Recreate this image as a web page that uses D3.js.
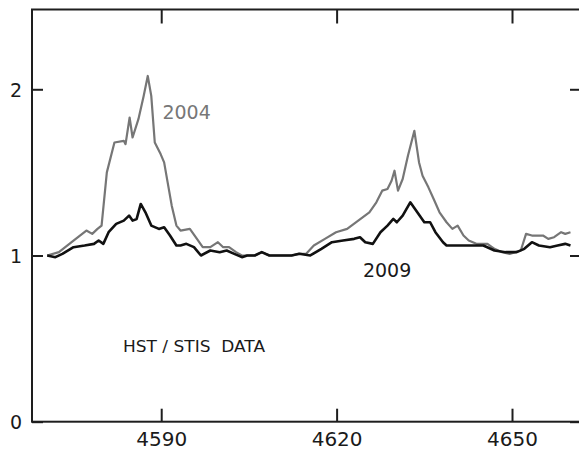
<!DOCTYPE html>
<html>
<head>
<meta charset="utf-8">
<script src="https://cdn.jsdelivr.net/npm/d3@7"></script>
<style>
  html, body { margin: 0; padding: 0; background: #fff; }
  svg { display: block; }
</style>
</head>
<body>
<div id="chart"></div>
<script>
// Wavelength (Å) and normalized flux
const wave2004 = [4570.5,4572.5,4575.0,4577.2,4578.2,4579.1,4579.8,4580.7,4582.0,4583.6,4583.9,4584.6,4585.1,4586.1,4587.0,4587.7,4588.3,4588.9,4589.9,4590.5,4591.1,4591.8,4592.6,4593.3,4594.9,4595.9,4597.1,4598.4,4599.7,4600.6,4601.6,4602.8,4603.8,4604.7,4606.0,4607.2,4608.5,4610.4,4612.3,4613.6,4614.8,4616.1,4618.0,4619.9,4621.8,4623.7,4625.6,4626.8,4627.8,4628.7,4629.4,4629.9,4630.5,4631.3,4632.2,4633.3,4634.1,4634.7,4635.7,4636.6,4637.6,4638.8,4639.8,4640.7,4641.7,4642.6,4643.9,4645.8,4647.0,4648.3,4649.6,4651.5,4652.4,4653.4,4655.3,4656.2,4657.2,4658.4,4659.1,4660.0];
const flux2004 = [1.00,1.02,1.09,1.15,1.13,1.16,1.18,1.50,1.68,1.69,1.67,1.83,1.71,1.82,1.96,2.08,1.96,1.68,1.61,1.56,1.44,1.30,1.18,1.15,1.16,1.11,1.05,1.05,1.08,1.05,1.05,1.02,1.00,1.00,1.00,1.02,1.00,1.00,1.00,1.01,1.01,1.06,1.10,1.14,1.16,1.21,1.26,1.32,1.39,1.40,1.45,1.51,1.39,1.46,1.60,1.75,1.56,1.48,1.41,1.34,1.26,1.20,1.16,1.18,1.12,1.09,1.07,1.07,1.04,1.02,1.01,1.03,1.13,1.12,1.12,1.10,1.11,1.14,1.13,1.14];

const wave2009 = [4570.5,4571.9,4573.1,4575.0,4576.9,4578.5,4579.3,4580.1,4581.0,4582.3,4583.6,4584.5,4585.1,4585.8,4586.5,4587.3,4588.3,4589.6,4590.5,4591.5,4592.6,4593.3,4594.3,4595.6,4596.8,4598.4,4600.0,4601.2,4602.5,4603.8,4604.7,4606.0,4607.2,4608.5,4610.4,4612.3,4613.6,4615.5,4617.4,4619.2,4621.1,4623.0,4624.0,4624.9,4626.2,4627.5,4628.7,4629.7,4630.3,4631.3,4632.6,4633.8,4635.0,4636.0,4636.9,4638.2,4638.8,4640.7,4643.3,4645.1,4647.0,4648.9,4650.8,4652.1,4653.4,4654.6,4656.5,4657.8,4659.1,4660.0];
const flux2009 = [1.00,0.99,1.01,1.05,1.06,1.07,1.09,1.07,1.14,1.19,1.21,1.24,1.21,1.22,1.31,1.26,1.18,1.16,1.17,1.12,1.06,1.06,1.07,1.05,1.00,1.03,1.02,1.03,1.01,0.99,1.00,1.00,1.02,1.00,1.00,1.00,1.01,1.00,1.04,1.08,1.09,1.10,1.11,1.08,1.07,1.14,1.18,1.22,1.20,1.24,1.32,1.26,1.20,1.20,1.14,1.08,1.06,1.06,1.06,1.06,1.03,1.02,1.02,1.04,1.08,1.06,1.05,1.06,1.07,1.06];

const xTicks = [4590, 4620, 4650];
const yTicks = [0, 1, 2];
const seriesLabels = ["2004", "2009"];
const noteText = "HST / STIS  DATA";

const W = 579, H = 451;
const mLeft = 32, mRight = 581, mTop = 9.5, mBottom = 421.7;

const x = d3.scaleLinear().domain([4567.9, 4661.8]).range([mLeft, mRight]);
const y = d3.scaleLinear().domain([0, 2.48]).range([mBottom, mTop]);

const svg = d3.select("#chart").append("svg")
  .attr("width", W).attr("height", H)
  .style("font-family", "'DejaVu Sans', Verdana, sans-serif");

const frameColor = "#1e1e1e";

// frame
svg.append("rect")
  .attr("x", mLeft).attr("y", mTop)
  .attr("width", mRight - mLeft).attr("height", mBottom - mTop)
  .attr("fill", "none").attr("stroke", frameColor).attr("stroke-width", 2);

// bottom axis (inward ticks)
const gx = svg.append("g").attr("transform", `translate(0,${mBottom})`)
  .call(d3.axisBottom(x).tickValues(xTicks).tickSize(-13).tickPadding(10).tickFormat(d3.format("d")));
// top axis
const gxt = svg.append("g").attr("transform", `translate(0,${mTop})`)
  .call(d3.axisTop(x).tickValues(xTicks).tickSize(-14).tickFormat(""));
// left axis
const gy = svg.append("g").attr("transform", `translate(${mLeft},0)`)
  .call(d3.axisLeft(y).tickValues(yTicks).tickSize(-11).tickPadding(10).tickFormat(d3.format("d")));
// right axis
const gyr = svg.append("g").attr("transform", `translate(${mRight},0)`)
  .call(d3.axisRight(y).tickValues(yTicks).tickSize(-11).tickFormat(""));

[gx, gxt, gy, gyr].forEach(g => {
  g.select(".domain").remove();
  g.selectAll(".tick line").attr("stroke", frameColor).attr("stroke-width", 2);
  g.selectAll(".tick text").attr("fill", "#1a1a1a")
    .style("font-family", "'DejaVu Sans', Verdana, sans-serif");
});
gx.selectAll(".tick text").attr("font-size", 20);
gy.selectAll(".tick text").attr("font-size", 19).attr("dy", "0.36em");

const line = d3.line().x(d => x(d[0])).y(d => y(d[1]));

const data2004 = wave2004.map((w, i) => [w, flux2004[i]]);
const data2009 = wave2009.map((w, i) => [w, flux2009[i]]);

svg.append("path").datum(data2004)
  .attr("d", line).attr("fill", "none")
  .attr("stroke", "#767676").attr("stroke-width", 2.2).attr("stroke-linejoin", "round");
svg.append("path").datum(data2009)
  .attr("d", line).attr("fill", "none")
  .attr("stroke", "#111").attr("stroke-width", 2.6).attr("stroke-linejoin", "round");

// series labels
svg.append("text").attr("x", x(4590.2)).attr("y", y(1.82))
  .attr("font-size", 19).attr("fill", "#777").text(seriesLabels[0]);
svg.append("text").attr("x", x(4624.5)).attr("y", y(0.87))
  .attr("font-size", 19).attr("fill", "#1a1a1a").text(seriesLabels[1]);

// note
svg.append("text").attr("x", 123).attr("y", 352)
  .attr("font-size", 16).attr("fill", "#1a1a1a")
  .attr("textLength", 142).attr("lengthAdjust", "spacingAndGlyphs")
  .style("white-space", "pre")
  .text(noteText);
</script>
</body>
</html>
